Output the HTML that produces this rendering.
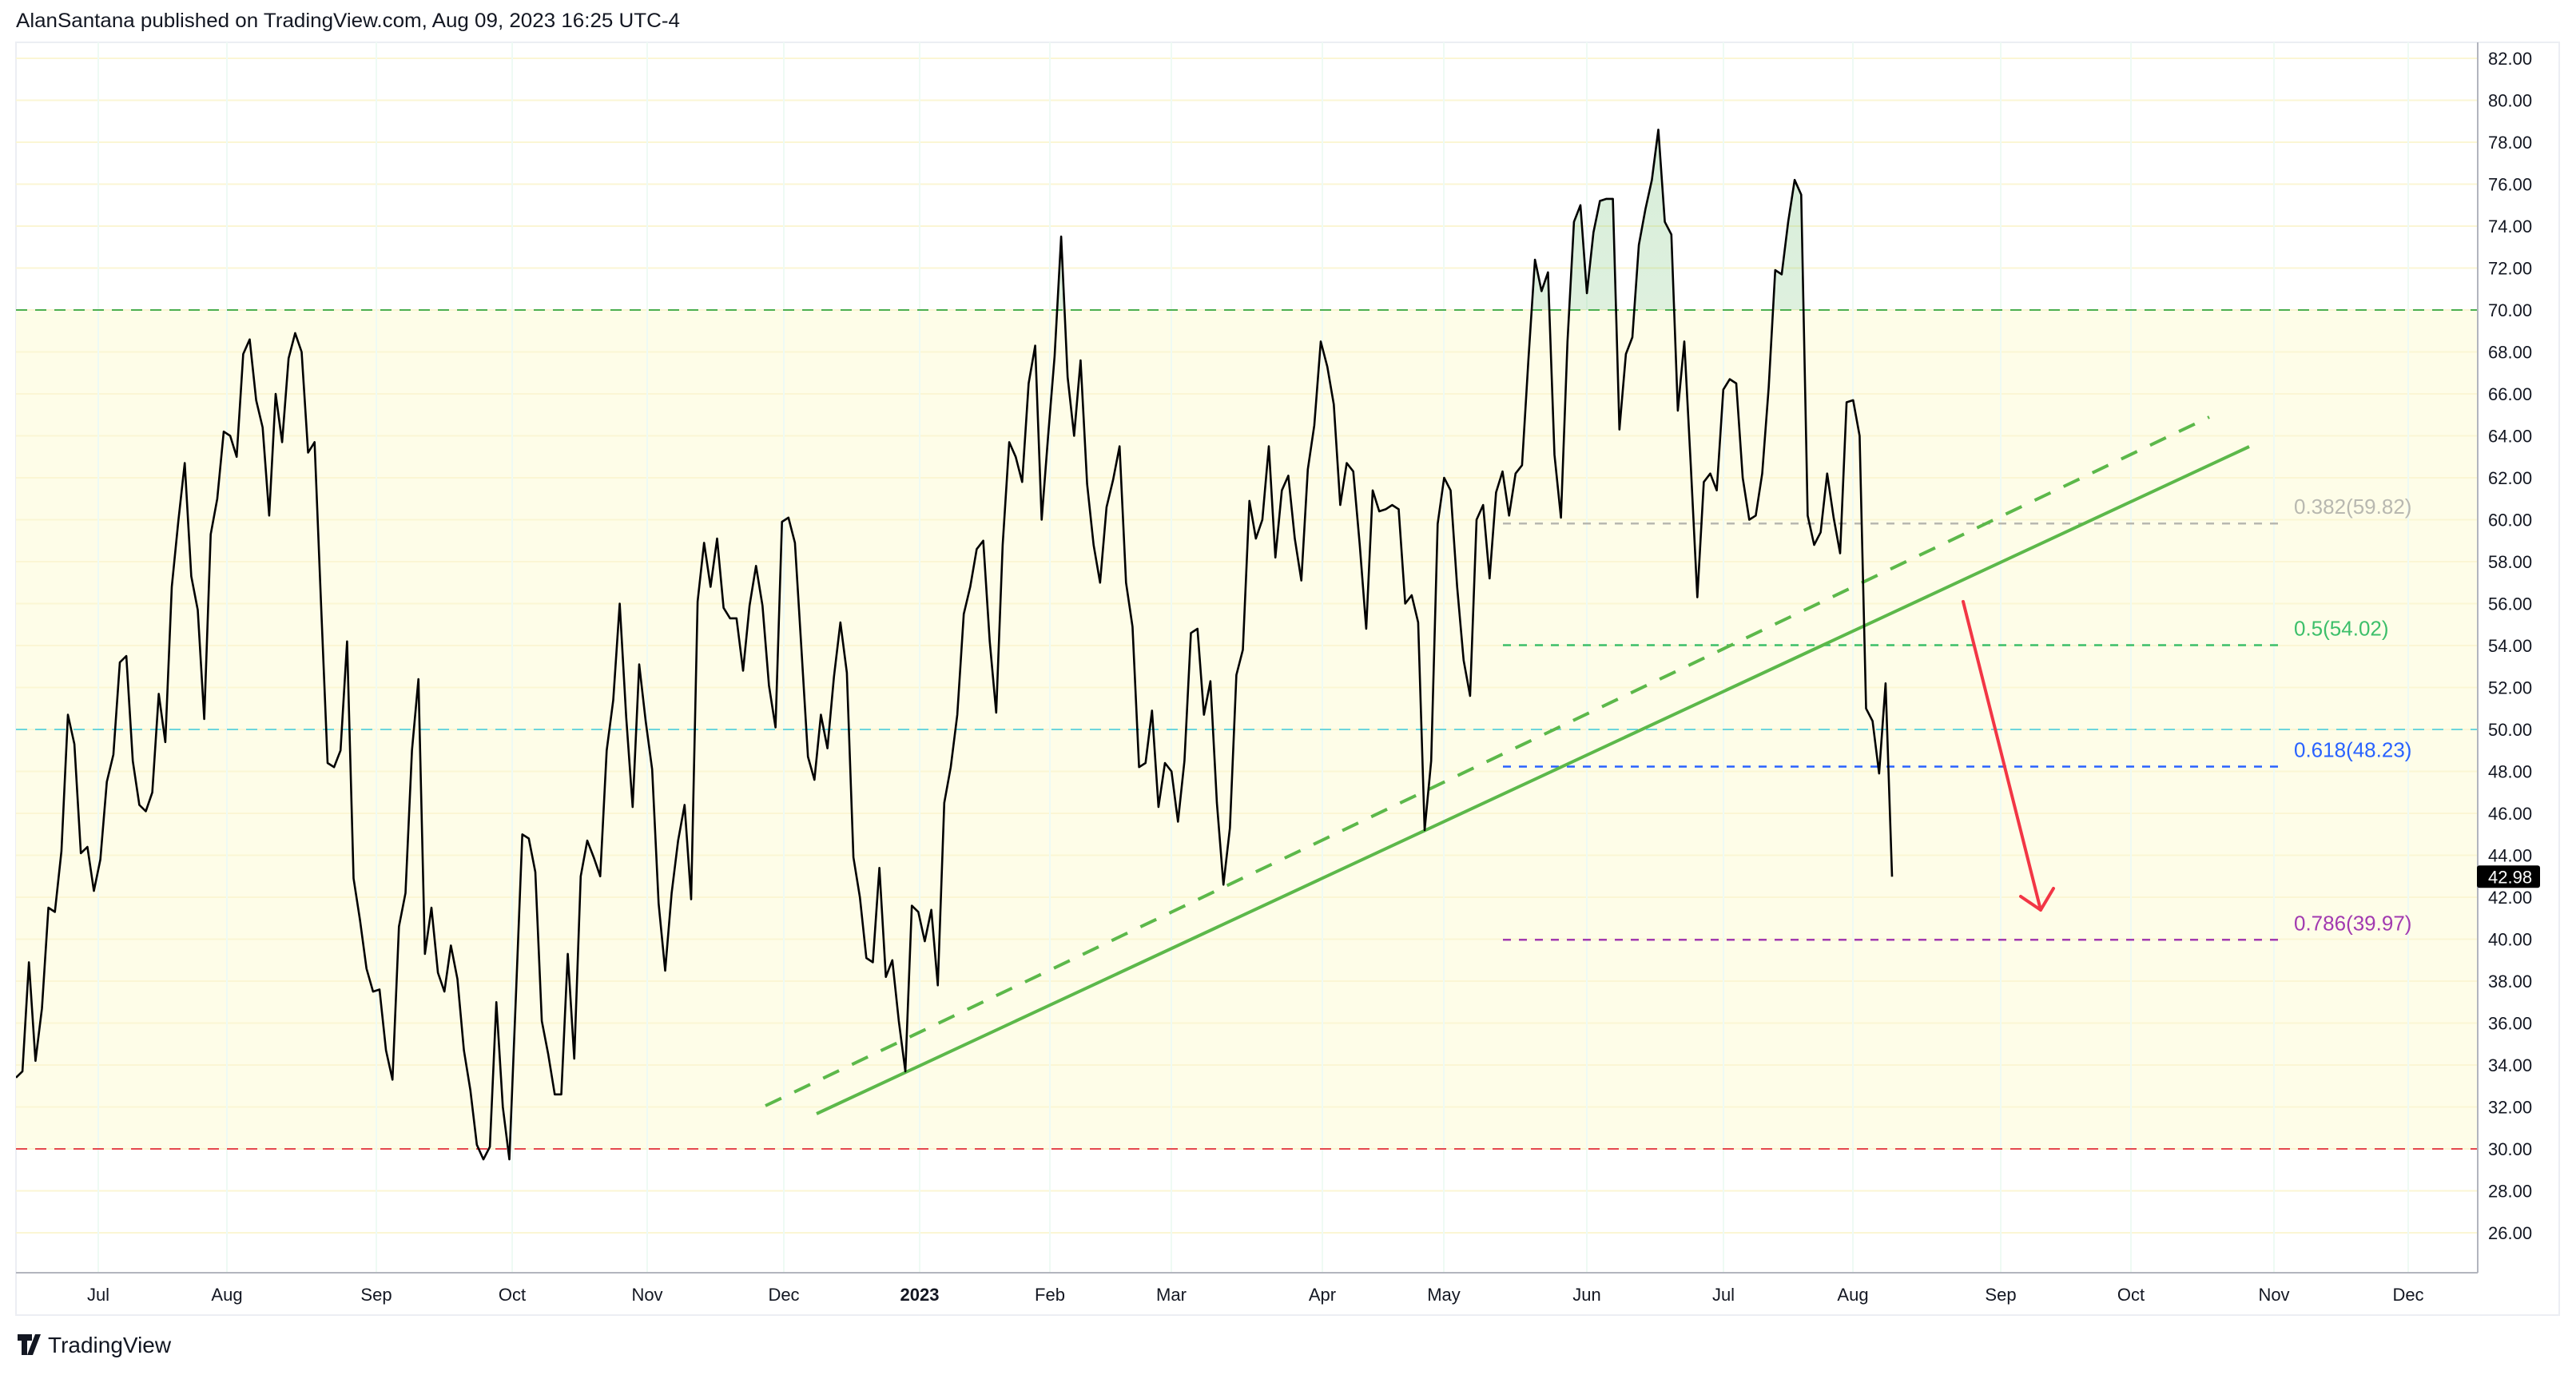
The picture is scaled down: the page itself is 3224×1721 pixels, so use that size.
<!DOCTYPE html>
<html><head><meta charset="utf-8">
<style>
html,body{margin:0;padding:0;background:#fff;}
body{width:3224px;height:1716px;overflow:hidden;font-family:"Liberation Sans",sans-serif;}
svg text{font-family:"Liberation Sans",sans-serif;}
</style></head>
<body>
<svg id="chart" width="3224" height="1716" viewBox="0 0 3224 1716" xmlns="http://www.w3.org/2000/svg">
<defs>
<clipPath id="plotClip"><rect x="20" y="53" width="3081" height="1540"/></clipPath>
<clipPath id="obClip"><rect x="20" y="53" width="3081" height="335"/></clipPath>
<linearGradient id="obGrad" x1="0" y1="0" x2="0" y2="1">
<stop offset="0" stop-color="#4caf50" stop-opacity="0.22"/>
<stop offset="1" stop-color="#4caf50" stop-opacity="0.02"/>
</linearGradient>
</defs>
<text x="20" y="34" font-size="25" fill="#131722" textLength="831" lengthAdjust="spacingAndGlyphs">AlanSantana published on TradingView.com, Aug 09, 2023 16:25 UTC-4</text>
<rect x="20" y="53" width="3183" height="1593" fill="#fff" stroke="#eceef3" stroke-width="2"/>
<g id="plot" clip-path="url(#plotClip)"></g>
<line x1="3101" y1="53" x2="3101" y2="1593" stroke="#b2b5be" stroke-width="2"/>
<line x1="20" y1="1593" x2="3101" y2="1593" stroke="#b2b5be" stroke-width="2"/>
<g id="yaxis"></g>
<g id="xaxis"></g>
<g id="overlay"></g>
<g>
<path d="M22 1670 h18 v8 h-6 v18 h-7 v-18 h-5z M44 1670 h7 l-10 26 h-7z" fill="#131722"/>
<circle cx="45" cy="1674" r="0" fill="#131722"/>
<text x="60" y="1693" font-size="28" fill="#131722">TradingView</text>
</g>
</svg>
<script>
// ---- data ----
const rsiValues = [
33.4,33.7,38.9,34.2,36.7,41.5,41.3,44.2,50.7,49.3,44.1,44.4,42.3,43.8,47.5,48.8,53.2,53.5,48.5,46.4,46.1,47.0,51.7,49.4,56.8,59.9,62.7,57.3,55.7,50.5,59.3,61.0,64.2,64.0,63.0,67.9,68.6,65.7,64.4,60.2,66.0,63.7,67.7,68.9,68.0,63.2,63.7,55.9,48.4,48.2,49.0,54.2,42.9,40.9,38.6,37.5,37.6,34.7,33.3,40.6,42.2,49.0,52.4,39.3,41.5,38.4,37.5,39.7,38.1,34.7,32.8,30.2,29.5,30.1,37.0,
32.0,29.5,37.2,45.0,44.8,43.2,36.1,34.5,32.6,32.6,39.3,34.3,43.0,44.7,43.9,43.0,49.0,51.4,56.0,50.6,46.3,53.1,50.4,48.1,41.7,38.5,42.2,44.7,46.4,41.9,56.1,58.9,56.8,59.1,55.8,55.3,55.3,52.8,55.9,57.8,55.9,52.1,50.1,59.9,60.1,58.9,53.8,48.7,47.6,50.7,49.1,52.5,55.1,52.7,43.9,42.0,39.1,38.9,43.4,38.2,39.0,36.1,33.7,41.6,41.3,39.9,41.4,37.8,46.5,48.2,50.7,55.5,56.8,58.6,
59.0,54.2,50.8,58.8,63.7,63.0,61.8,66.5,68.3,60.0,64.0,67.8,73.5,66.8,64.0,67.6,61.7,58.8,57.0,60.6,61.9,63.5,57.0,54.9,48.2,48.4,50.9,46.3,48.4,48.0,45.6,48.5,54.6,54.8,50.7,52.3,46.5,42.6,45.3,52.6,53.8,60.9,59.1,60.0,63.5,58.2,61.4,62.1,59.1,57.1,62.4,64.5,68.5,67.3,65.5,60.7,62.7,62.3,58.8,54.8,61.4,60.4,60.5,60.7,60.5,56.0,56.4,55.1,45.2,48.5,59.8,62.0,61.4,56.8,
53.3,51.6,60.0,60.7,57.2,61.3,62.3,60.2,62.2,62.6,67.7,72.4,70.9,71.8,63.1,60.1,68.5,74.2,75.0,70.8,73.7,75.2,75.3,75.3,64.3,67.9,68.7,73.1,74.8,76.2,78.6,74.2,73.6,65.2,68.5,62.6,56.3,61.8,62.2,61.4,66.2,66.7,66.5,62.0,60.0,60.2,62.2,66.3,71.9,71.7,74.2,76.2,75.5,60.2,58.8,59.4,62.2,60.1,58.4,65.6,65.7,64.0,51.0,50.4,47.9,52.2,42.98
];
const priceTicks = [26,28,30,32,34,36,38,40,42,44,46,48,50,52,54,56,58,60,62,64,66,68,70,72,74,76,78,80,82];
const monthLabels = ["Jul","Aug","Sep","Oct","Nov","Dec","2023","Feb","Mar","Apr","May","Jun","Jul","Aug","Sep","Oct","Nov","Dec"];
const monthPos = [123,284,471,641,810,981,1151,1314,1466,1655,1807,1986,2157,2319,2504,2667,2846,3014];
const fibRatios = ["0.382","0.5","0.618","0.786"];
const fibValues = [59.82,54.02,48.23,39.97];
const fibColors = ["#b8b8b0","#3cbf6a","#2962ff","#a23ab0"];
const lastValue = 42.98;

// ---- scales ----
const X0 = 20, X1 = 2368;
function xIdx(i){ return X0 + i*(X1-X0)/(rsiValues.length-1); }
function yVal(v){ return 388 + (70 - v)*26.25; }

const NS = "http://www.w3.org/2000/svg";
function mk(tag, attrs, parent){
  const e = document.createElementNS(NS, tag);
  for (const k in attrs) e.setAttribute(k, attrs[k]);
  parent.appendChild(e);
  return e;
}
const plot = document.getElementById('plot');
const yaxis = document.getElementById('yaxis');
const xaxis = document.getElementById('xaxis');
const overlay = document.getElementById('overlay');

// band background
const band = mk('rect', {x:20, y:yVal(70), width:3081, height:yVal(30)-yVal(70), fill:'#fefde8'}, plot);



// grid
priceTicks.forEach(function(v){
  const g = mk('line', {x1:20, x2:3101, y1:yVal(v), y2:yVal(v), stroke:'#fbf6d4', 'stroke-width':2}, plot);
  
  
});
monthPos.forEach(function(x){
  const g = mk('line', {x1:x, x2:x, y1:53, y2:1593, stroke:'#eefaf4', 'stroke-width':2}, plot);
  
  
});

// band lines
[[70,'#4caf50','upper-band-line'],[50,'#6dd6dc','middle-band-line'],[30,'#e5484d','lower-band-line']].forEach(function(b){
  const l = mk('line', {x1:20, x2:3101, y1:yVal(b[0]), y2:yVal(b[0]), stroke:b[1], 'stroke-width':2, 'stroke-dasharray':'14 10'}, plot);
  
  
});

// overbought fill
let pts = rsiValues.map(function(v,i){ return xIdx(i).toFixed(1)+','+yVal(v).toFixed(1); });
const fillD = 'M'+xIdx(0)+','+yVal(70)+' L'+pts.join(' L')+' L'+xIdx(rsiValues.length-1)+','+yVal(70)+' Z';
const ob = mk('path', {d:fillD, fill:'url(#obGrad)', 'clip-path':'url(#obClip)'}, plot);



// fib lines
fibValues.forEach(function(v,i){
  const l = mk('line', {x1:1881, x2:2858, y1:yVal(v), y2:yVal(v), stroke:fibColors[i], 'stroke-width':2.5, 'stroke-dasharray':'10 10'}, plot);
  
  
  const t = mk('text', {x:2871, y:yVal(v)-12, 'font-size':26, fill:fibColors[i]}, plot);
  t.textContent = fibRatios[i]+'('+v.toFixed(2)+')';
  
  
});

// trendlines
const tl = mk('line', {x1:1022, y1:1394, x2:2815, y2:559, stroke:'#5cb84a', 'stroke-width':4}, plot);


const tld = mk('line', {x1:958, y1:1384, x2:2765, y2:522, stroke:'#5cb84a', 'stroke-width':4, 'stroke-dasharray':'22 18'}, plot);



// rsi line
const rl = mk('polyline', {points:pts.join(' '), fill:'none', stroke:'#000', 'stroke-width':2.6, 'stroke-linejoin':'round'}, plot);



// arrow
const ar = mk('path', {d:'M2457,753 L2554,1139 M2529,1122 L2554,1139 L2570,1112', fill:'none', stroke:'#f23645', 'stroke-width':4, 'stroke-linecap':'round', 'stroke-linejoin':'round'}, overlay);



// y axis labels
priceTicks.forEach(function(v){
  const t = mk('text', {x:3114, y:yVal(v)+8, 'font-size':22, fill:'#131722'}, yaxis);
  t.textContent = v.toFixed(2);
  
  
});
const box = mk('rect', {x:3100, y:yVal(lastValue)-14, width:79, height:28, rx:3, fill:'#000'}, yaxis);


const bt = mk('text', {x:3114, y:yVal(lastValue)+8, 'font-size':22, fill:'#fff'}, yaxis);
bt.textContent = lastValue.toFixed(2);



// x axis labels
monthLabels.forEach(function(m,i){
  const t = mk('text', {x:monthPos[i], y:1628, 'font-size':22, fill:'#131722', 'text-anchor':'middle', 'font-weight': m==='2023'?'bold':'normal'}, xaxis);
  t.textContent = m;
  
  
});
</script>
</body></html>
